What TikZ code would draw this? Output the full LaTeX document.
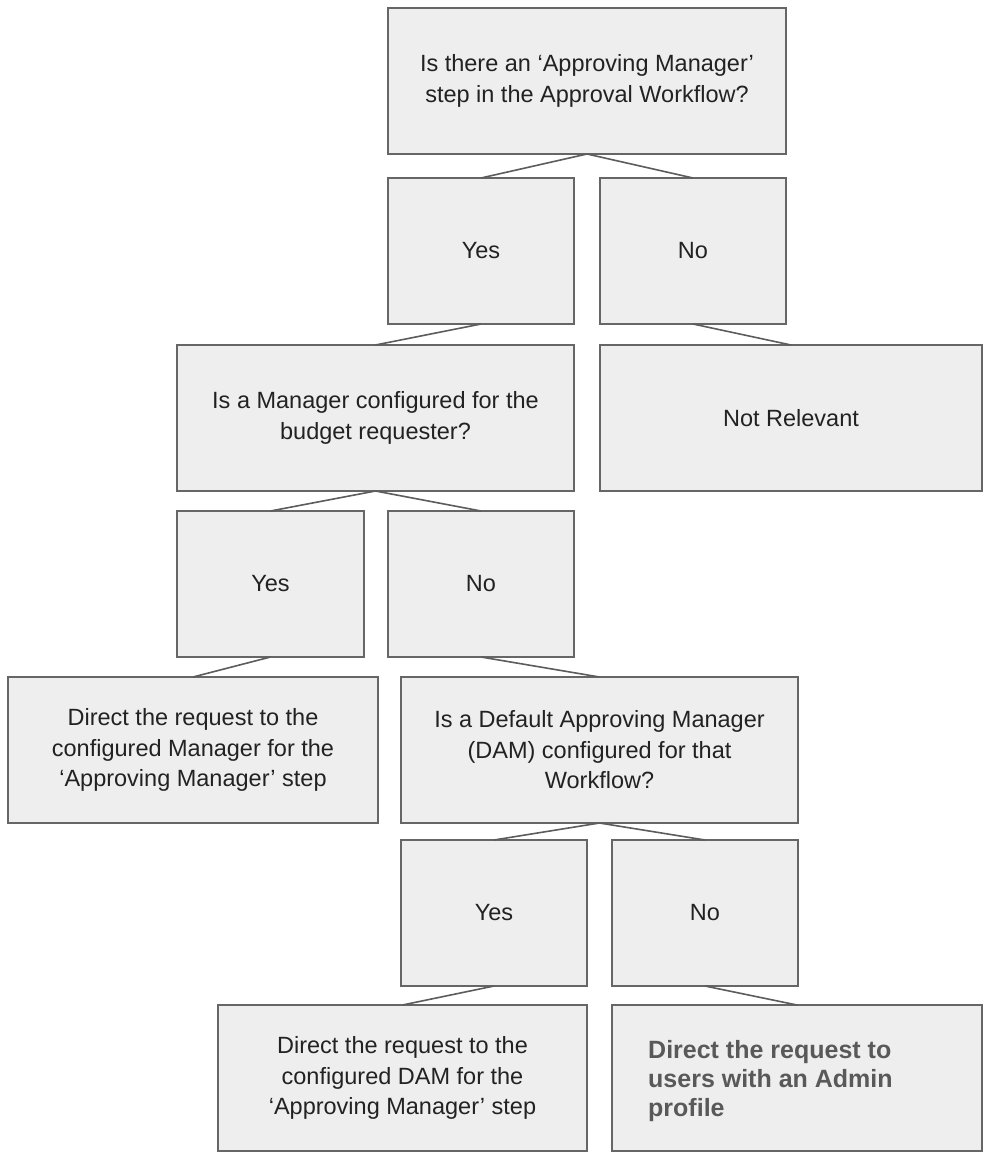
\documentclass[tikz,border=0pt]{standalone}
\usepackage{fontspec}
\setmainfont{Liberation Sans}
\definecolor{boxfill}{HTML}{EEEEEE}
\definecolor{boxline}{HTML}{666666}
\definecolor{txt}{HTML}{222222}
\definecolor{boldtxt}{HTML}{595959}
\begin{document}
\begin{tikzpicture}[x=1pt,y=-1pt,
  box/.style={draw=boxline, fill=boxfill, line width=1.8pt, rectangle, inner sep=0pt, outer sep=0pt,
    minimum height=146pt, text=txt, align=center, font=\fontsize{23.5}{30.5}\selectfont},
  conn/.style={draw=boxline!90!black, line width=1.6pt},
  btxt/.style={text=boldtxt, align=left, anchor=west, inner sep=0pt, font=\bfseries\fontsize{25}{29}\selectfont}]
\useasboundingbox (0,0) rectangle (992,1164);
\node[box, minimum width=398pt] (q1) at (587,81) {Is there an ‘Approving Manager’\\step in the Approval Workflow?};
\node[box, minimum width=186pt] (y1) at (481,251) {Yes};
\node[box, minimum width=186pt] (n1) at (693,251) {No};
\node[box, minimum width=397pt] (q2) at (375.5,418) {Is a Manager configured for the\\budget requester?};
\node[box, minimum width=382pt] (nr) at (791,418) {Not Relevant};
\node[box, minimum width=187pt] (y2) at (270.5,584) {Yes};
\node[box, minimum width=186pt] (n2) at (481,584) {No};
\node[box, minimum width=370pt] (d1) at (193,750) {Direct the request to the\\configured Manager for the\\‘Approving Manager’ step};
\node[box, minimum width=397pt] (q3) at (599.5,750) {Is a Default Approving Manager\\(DAM) configured for that\\Workflow?};
\node[box, minimum width=186pt] (y3) at (494,913) {Yes};
\node[box, minimum width=186pt] (n3) at (705,913) {No};
\node[box, minimum width=369pt] (d2) at (402.5,1078) {Direct the request to the\\configured DAM for the\\‘Approving Manager’ step};
\node[box, minimum width=370pt] (d3) at (797,1078) {};
\node[btxt] (d3t) at (648,1081) {Direct the request to\\users with an Admin\\profile};
\draw[conn] (q1.south) -- (y1.north);
\draw[conn] (q1.south) -- (n1.north);
\draw[conn] (y1.south) -- (q2.north);
\draw[conn] (n1.south) -- (nr.north);
\draw[conn] (q2.south) -- (y2.north);
\draw[conn] (q2.south) -- (n2.north);
\draw[conn] (y2.south) -- (d1.north);
\draw[conn] (n2.south) -- (q3.north);
\draw[conn] (q3.south) -- (y3.north);
\draw[conn] (q3.south) -- (n3.north);
\draw[conn] (y3.south) -- (d2.north);
\draw[conn] (n3.south) -- (d3.north);
\end{tikzpicture}
\end{document}
